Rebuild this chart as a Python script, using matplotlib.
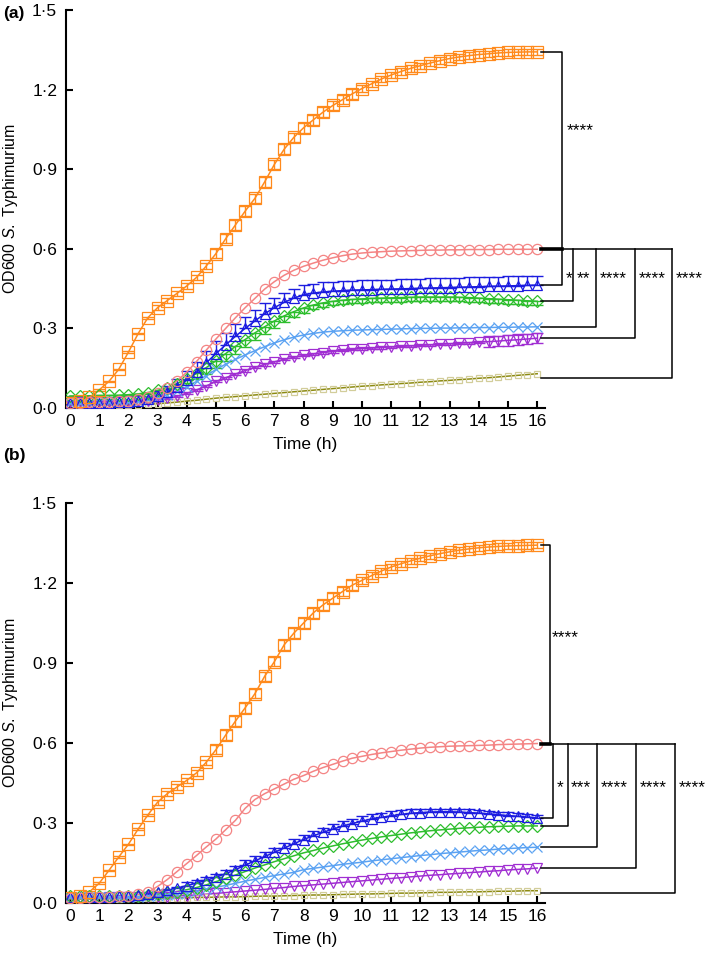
"""Growth curves of S. Typhimurium (OD600) for panels (a) and (b)."""

import matplotlib

matplotlib.use("Agg")
import matplotlib.pyplot as plt
import numpy as np

plt.rcParams["font.family"] = ["Liberation Sans", "DejaVu Sans"]
plt.rcParams["mathtext.fontset"] = "custom"
plt.rcParams["mathtext.rm"] = "Liberation Sans"
plt.rcParams["mathtext.it"] = "Liberation Sans:italic"

# sampling every 20 min, 0-16 h
TIME_MIN = list(range(0, 961, 20))
X_TICKS = list(range(0, 17))
Y_TICKS = [0.0, 0.3, 0.6, 0.9, 1.2, 1.5]
Y_TICK_LABELS = ["0·0", "0·3", "0·6", "0·9", "1·2", "1·5"]

# ---- panel (a) ----
orange_a = [0.020, 0.025, 0.040, 0.068, 0.100, 0.145, 0.210, 0.280, 0.340, 0.378,
            0.405, 0.432, 0.460, 0.492, 0.535, 0.582, 0.638, 0.690, 0.742, 0.790,
            0.852, 0.918, 0.975, 1.020, 1.056, 1.086, 1.115, 1.140, 1.162, 1.184,
            1.204, 1.222, 1.240, 1.255, 1.268, 1.280, 1.290, 1.300, 1.309, 1.317,
            1.323, 1.328, 1.332, 1.335, 1.338, 1.340, 1.341, 1.342, 1.342]
pink_a = [0.020, 0.020, 0.021, 0.022, 0.023, 0.025, 0.028, 0.033, 0.042, 0.055,
          0.075, 0.102, 0.135, 0.175, 0.218, 0.260, 0.300, 0.340, 0.378, 0.413,
          0.448, 0.476, 0.500, 0.519, 0.534, 0.546, 0.557, 0.566, 0.574, 0.580,
          0.584, 0.587, 0.589, 0.591, 0.592, 0.593, 0.594, 0.595, 0.595, 0.596,
          0.596, 0.597, 0.597, 0.597, 0.598, 0.598, 0.598, 0.598, 0.598]
blue_a = [0.018, 0.018, 0.018, 0.019, 0.020, 0.021, 0.023, 0.027, 0.033, 0.045,
          0.060, 0.080, 0.105, 0.135, 0.170, 0.205, 0.238, 0.270, 0.300, 0.328,
          0.355, 0.378, 0.398, 0.414, 0.426, 0.433, 0.437, 0.440, 0.442, 0.444,
          0.445, 0.446, 0.447, 0.448, 0.449, 0.450, 0.451, 0.452, 0.453, 0.454,
          0.455, 0.456, 0.457, 0.458, 0.459, 0.460, 0.461, 0.462, 0.463]
green_a = [0.045, 0.046, 0.046, 0.047, 0.047, 0.048, 0.050, 0.053, 0.058, 0.066,
           0.077, 0.092, 0.110, 0.130, 0.152, 0.178, 0.205, 0.232, 0.258, 0.283,
           0.306, 0.328, 0.347, 0.363, 0.377, 0.388, 0.396, 0.402, 0.406, 0.409,
           0.411, 0.413, 0.414, 0.415, 0.416, 0.417, 0.418, 0.418, 0.418, 0.418,
           0.417, 0.416, 0.414, 0.412, 0.410, 0.408, 0.406, 0.404, 0.402]
lightblue_a = [0.020, 0.020, 0.020, 0.021, 0.021, 0.022, 0.024, 0.027, 0.032, 0.040,
               0.050, 0.064, 0.080, 0.100, 0.122, 0.145, 0.165, 0.183, 0.200, 0.216,
               0.231, 0.245, 0.257, 0.267, 0.275, 0.281, 0.286, 0.289, 0.291, 0.293,
               0.294, 0.295, 0.296, 0.297, 0.298, 0.299, 0.300, 0.300, 0.301, 0.301,
               0.302, 0.302, 0.303, 0.303, 0.304, 0.304, 0.305, 0.305, 0.306]
purple_a = [0.022, 0.022, 0.022, 0.023, 0.023, 0.024, 0.025, 0.026, 0.028, 0.031,
            0.036, 0.044, 0.055, 0.068, 0.083, 0.100, 0.114, 0.128, 0.141, 0.153,
            0.164, 0.174, 0.183, 0.191, 0.198, 0.204, 0.209, 0.213, 0.217, 0.221,
            0.224, 0.226, 0.228, 0.230, 0.232, 0.234, 0.236, 0.238, 0.240, 0.242,
            0.244, 0.246, 0.248, 0.250, 0.252, 0.255, 0.257, 0.260, 0.263]
olive_a = [0.010, 0.010, 0.010, 0.011, 0.011, 0.012, 0.012, 0.013, 0.014, 0.016,
           0.019, 0.022, 0.026, 0.029, 0.033, 0.037, 0.040, 0.043, 0.046, 0.049,
           0.052, 0.055, 0.058, 0.061, 0.064, 0.067, 0.070, 0.073, 0.076, 0.079,
           0.082, 0.084, 0.087, 0.089, 0.092, 0.094, 0.097, 0.099, 0.102, 0.104,
           0.107, 0.109, 0.112, 0.114, 0.117, 0.120, 0.123, 0.126, 0.129]

orange_err_a = [0.003] * 9 + [0.010] * 6 + [0.018] * 15 + [0.012] * 19
blue_err_a = [0.004] * 8 + [0.010, 0.018, 0.024, 0.030, 0.036, 0.040, 0.044, 0.046,
                            0.046, 0.045, 0.044, 0.042, 0.040, 0.038, 0.036, 0.034] + [0.036] * 25
green_err_a = [0.004] * 12 + [0.015, 0.020, 0.024, 0.026, 0.028, 0.028, 0.028, 0.027,
                              0.026, 0.025, 0.024, 0.022, 0.020] + [0.015] * 24
purple_err_a = [0.004] * 43 + [0.020] * 6

# ---- panel (b) ----
orange_b = [0.020, 0.025, 0.042, 0.074, 0.122, 0.172, 0.220, 0.277, 0.330, 0.378,
            0.410, 0.435, 0.460, 0.488, 0.528, 0.575, 0.630, 0.682, 0.732, 0.785,
            0.850, 0.905, 0.968, 1.012, 1.050, 1.088, 1.118, 1.143, 1.168, 1.192,
            1.210, 1.228, 1.245, 1.260, 1.272, 1.283, 1.293, 1.302, 1.310, 1.317,
            1.323, 1.328, 1.332, 1.335, 1.337, 1.339, 1.340, 1.341, 1.342]
pink_b = [0.020, 0.020, 0.021, 0.022, 0.023, 0.025, 0.028, 0.032, 0.040, 0.062,
          0.088, 0.118, 0.148, 0.178, 0.210, 0.240, 0.275, 0.310, 0.355, 0.388,
          0.410, 0.428, 0.446, 0.464, 0.478, 0.494, 0.508, 0.520, 0.532, 0.543,
          0.550, 0.557, 0.563, 0.568, 0.573, 0.577, 0.581, 0.584, 0.586, 0.588,
          0.589, 0.590, 0.591, 0.592, 0.594, 0.595, 0.596, 0.597, 0.598]
blue_b = [0.022, 0.022, 0.023, 0.023, 0.024, 0.025, 0.027, 0.030, 0.034, 0.040,
          0.047, 0.056, 0.065, 0.075, 0.085, 0.097, 0.110, 0.125, 0.142, 0.158,
          0.174, 0.190, 0.206, 0.222, 0.238, 0.252, 0.265, 0.277, 0.288, 0.298,
          0.307, 0.315, 0.321, 0.327, 0.332, 0.336, 0.339, 0.341, 0.342, 0.342,
          0.341, 0.339, 0.337, 0.334, 0.331, 0.328, 0.325, 0.322, 0.319]
green_b = [0.025, 0.025, 0.025, 0.025, 0.026, 0.026, 0.027, 0.028, 0.030, 0.033,
           0.037, 0.043, 0.050, 0.058, 0.068, 0.080, 0.092, 0.105, 0.118, 0.131,
           0.143, 0.155, 0.166, 0.177, 0.188, 0.197, 0.206, 0.214, 0.222, 0.229,
           0.236, 0.242, 0.248, 0.253, 0.258, 0.263, 0.267, 0.271, 0.274, 0.277,
           0.280, 0.282, 0.284, 0.286, 0.287, 0.288, 0.289, 0.289, 0.289]
lightblue_b = [0.022, 0.022, 0.022, 0.022, 0.022, 0.023, 0.023, 0.024, 0.025, 0.027,
               0.030, 0.034, 0.039, 0.045, 0.052, 0.059, 0.066, 0.074, 0.082, 0.089,
               0.096, 0.103, 0.109, 0.115, 0.125, 0.130, 0.135, 0.140, 0.145, 0.149,
               0.153, 0.158, 0.162, 0.166, 0.170, 0.174, 0.178, 0.181, 0.185, 0.188,
               0.191, 0.194, 0.197, 0.199, 0.202, 0.204, 0.206, 0.208, 0.209]
purple_b = [0.020, 0.020, 0.020, 0.020, 0.021, 0.021, 0.021, 0.022, 0.022, 0.023,
            0.024, 0.026, 0.028, 0.030, 0.033, 0.036, 0.039, 0.042, 0.045, 0.048,
            0.051, 0.055, 0.058, 0.062, 0.065, 0.068, 0.071, 0.074, 0.077, 0.080,
            0.083, 0.086, 0.089, 0.092, 0.095, 0.098, 0.101, 0.104, 0.106, 0.109,
            0.111, 0.114, 0.116, 0.119, 0.121, 0.124, 0.126, 0.128, 0.131]
olive_b = [0.015, 0.015, 0.015, 0.016, 0.016, 0.016, 0.017, 0.017, 0.018, 0.018,
           0.019, 0.019, 0.020, 0.021, 0.021, 0.022, 0.023, 0.023, 0.024, 0.025,
           0.026, 0.026, 0.027, 0.028, 0.029, 0.030, 0.030, 0.031, 0.032, 0.033,
           0.034, 0.034, 0.035, 0.036, 0.037, 0.037, 0.038, 0.039, 0.040, 0.040,
           0.041, 0.042, 0.042, 0.043, 0.044, 0.044, 0.045, 0.046, 0.046]

orange_err_b = [0.003] * 9 + [0.010] * 6 + [0.018] * 15 + [0.012] * 19
blue_err_b = [0.004] * 12 + [0.012] * 6 + [0.018] * 18 + [0.012] * 13

# significance brackets: (bracket x in h, level of lower series, label)
TOP_BRACKET_A = (16.85, 1.342, 0.598, "****", 17.0, 1.045)
LOWER_X_A = [16.85, 17.24, 18.01, 19.35, 20.63]
LOWER_Y_A = [0.464, 0.403, 0.306, 0.263, 0.112]
LOWER_LABELS_A = ["*", "**", "****", "****", "****"]
STAR_Y_A = 0.486

TOP_BRACKET_B = (16.44, 1.342, 0.598, "****", 16.5, 0.995)
LOWER_X_B = [16.55, 17.04, 18.06, 19.38, 20.72]
LOWER_Y_B = [0.319, 0.289, 0.209, 0.131, 0.037]
LOWER_LABELS_B = ["*", "***", "****", "****", "****"]
STAR_Y_B = 0.431

STYLES = {
    "orange": dict(color="#FF8A1C", marker="s", ms=8.6),
    "pink": dict(color="#F48484", marker="o", ms=7.4),
    "blue": dict(color="#1C1CE0", marker="^", ms=7.5),
    "green": dict(color="#2EBE2E", marker="D", ms=5.8),
    "lightblue": dict(color="#5BA2F2", marker="x", ms=7.5),
    "purple": dict(color="#A02ED2", marker="v", ms=7.5),
    "olive": dict(color="#D2CD9A", marker="s", ms=5.0, line="#8C8A10"),
}


def _series(ax, t, y, key, err=None, side="both"):
    st = STYLES[key]
    ax.plot(t, y, color=st.get("line", st["color"]), lw=1.1, zorder=3)
    ax.plot(t, y, ls="none", marker=st["marker"], ms=st["ms"], mfc="none",
            mec=st["color"], mew=0.9, zorder=4)
    if err is not None:
        e = np.asarray(err)
        zero = np.zeros_like(e)
        yerr = {"both": [e, e], "up": [zero, e], "down": [e, zero]}[side]
        ax.errorbar(t, y, yerr=yerr, fmt="none", ecolor=st["color"],
                    elinewidth=1.0, capsize=4, capthick=1.0, zorder=3)


def _brackets(ax, top, xs, ys, labels, star_y, x_end=16.12):
    kw = dict(color="black", lw=1.1, clip_on=False, zorder=5)
    bx, y_hi, y_lo, lab, lx, ly = top
    ax.plot([x_end, bx, bx], [y_hi, y_hi, y_lo], **kw)
    ax.plot([x_end, xs[-1]], [y_lo, y_lo], **kw)
    ax.plot([x_end, bx], [y_lo, y_lo], color="black", lw=2.6, clip_on=False, zorder=5)
    ax.text(lx, ly, lab, ha="left", va="center", fontsize=12.5, clip_on=False)
    for x, y, s in zip(xs, ys, labels):
        ax.plot([x, x, x_end], [y_lo, y, y], **kw)
        ax.annotate(s, (x, star_y), xytext=(2.5, 0), textcoords="offset points",
                    ha="left", va="center", fontsize=12.5, annotation_clip=False)


def _style_axes(ax):
    ax.set_xlim(-0.15, 16.25)
    ax.set_ylim(0, 1.5)
    for side in ("top", "right"):
        ax.spines[side].set_visible(False)
    for side in ("left", "bottom"):
        ax.spines[side].set_linewidth(1.5)
    ax.set_xticks(X_TICKS)
    ax.set_xticklabels([str(v) for v in X_TICKS])
    ax.set_yticks(Y_TICKS)
    ax.set_yticklabels(Y_TICK_LABELS)
    ax.tick_params(axis="both", direction="in", length=5, width=1.5, labelsize=12.5)
    ax.tick_params(axis="x", pad=4)
    ax.tick_params(axis="y", pad=6)
    ax.set_xlabel("Time (h)", fontsize=12.5, labelpad=6)
    ax.set_ylabel("OD600 $\\mathit{S.}$ Typhimurium", fontsize=11.5)
    ax.yaxis.set_label_coords(-0.095, 0.5)


def main():
    t = np.array(TIME_MIN) / 60.0
    fig = plt.figure(figsize=(7.09, 9.59), dpi=100)
    ax_a = fig.add_axes([0.0925, 0.5746, 0.6755, 0.4150])
    ax_b = fig.add_axes([0.0925, 0.0584, 0.6755, 0.4171])

    _series(ax_a, t, olive_a, "olive")
    _series(ax_a, t, purple_a, "purple", purple_err_a)
    _series(ax_a, t, lightblue_a, "lightblue")
    _series(ax_a, t, green_a, "green", green_err_a, side="down")
    _series(ax_a, t, blue_a, "blue", blue_err_a, side="up")
    _series(ax_a, t, pink_a, "pink")
    _series(ax_a, t, orange_a, "orange", orange_err_a)
    _brackets(ax_a, TOP_BRACKET_A, LOWER_X_A, LOWER_Y_A, LOWER_LABELS_A, STAR_Y_A)

    _series(ax_b, t, olive_b, "olive")
    _series(ax_b, t, purple_b, "purple")
    _series(ax_b, t, lightblue_b, "lightblue")
    _series(ax_b, t, green_b, "green")
    _series(ax_b, t, blue_b, "blue", blue_err_b, side="up")
    _series(ax_b, t, pink_b, "pink")
    _series(ax_b, t, orange_b, "orange", orange_err_b)
    _brackets(ax_b, TOP_BRACKET_B, LOWER_X_B, LOWER_Y_B, LOWER_LABELS_B, STAR_Y_B)

    for ax in (ax_a, ax_b):
        _style_axes(ax)

    fig.text(0.004, 0.986, "(a)", fontsize=12.5, fontweight="bold", va="center")
    fig.text(0.004, 0.525, "(b)", fontsize=12.5, fontweight="bold", va="center")
    fig.savefig("out.png", dpi=100)
    plt.close(fig)


if __name__ == "__main__":
    main()
